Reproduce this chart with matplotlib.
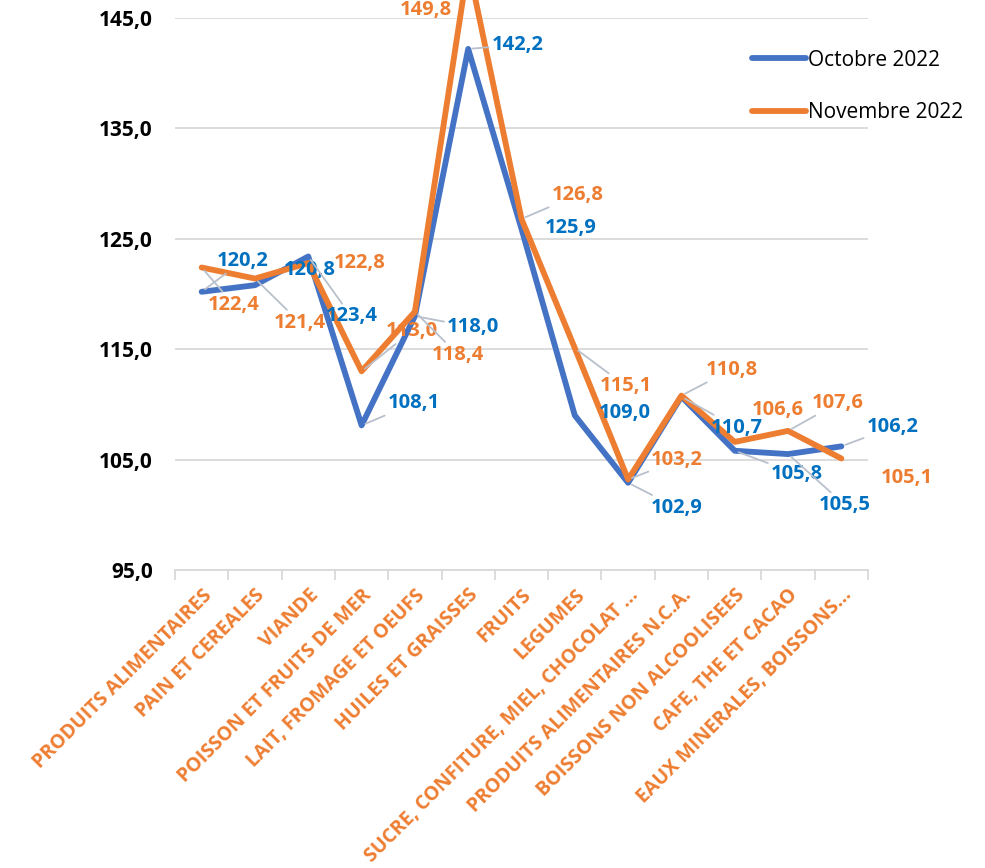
import matplotlib.pyplot as plt
from matplotlib.ticker import FixedLocator

plt.rcParams['font.family'] = ['Open Sans', 'DejaVu Sans']

categories = [
    "PRODUITS ALIMENTAIRES", "PAIN ET CEREALES", "VIANDE",
    "POISSON ET FRUITS DE MER", "LAIT, FROMAGE ET OEUFS",
    "HUILES ET GRAISSES", "FRUITS", "LEGUMES",
    "SUCRE, CONFITURE, MIEL, CHOCOLAT ...", "PRODUITS ALIMENTAIRES N.C.A.",
    "BOISSONS NON ALCOOLISEES", "CAFE, THE ET CACAO",
    "EAUX MINERALES, BOISSONS...",
]
octobre = [120.2, 120.8, 123.4, 108.1, 118.0, 142.2, 125.9,
           109.0, 102.9, 110.7, 105.8, 105.5, 106.2]
novembre = [122.4, 121.4, 122.8, 113.0, 118.4, 149.8, 126.8,
            115.1, 103.2, 110.8, 106.6, 107.6, 105.1]
y_ticks = [95, 105, 115, 125, 135, 145]

# label offsets in pixels (dx right, dy down) and whether a leader line shows
oct_off = [(41, -31), (55, -15), (43, 60), (52, -22), (58, 11), (49, -4),
           (49, -1), (50, -2), (49, 25), (55, 31), (62, 23), (57, 51),
           (51, -19)]
oct_lead = [1, 0, 1, 1, 1, 1, 0, 0, 1, 1, 1, 1, 1]
nov_off = [(32, 37), (45, 44), (51, 0), (50, -40), (43, 43), (-42, 45),
           (56, -24), (51, 38), (49, -19), (50, -26), (43, -32), (50, -28),
           (65, 20)]
nov_lead = [1, 1, 0, 1, 1, 0, 1, 1, 1, 1, 0, 1, 0]

BLUE, ORANGE = "#4472C4", "#ED7D31"
BLUE_TXT = "#0070C0"
GRID = "#D9D9D9"

fig = plt.figure(figsize=(9.85, 8.68), dpi=100)
ax = fig.add_axes([175 / 985, 1 - 570 / 868, 693 / 985, 552 / 868])

x = list(range(len(categories)))
ax.plot(x, octobre, color=BLUE, lw=4.2, label="Octobre 2022",
        solid_capstyle="round", clip_on=False, zorder=3)
ax.plot(x, novembre, color=ORANGE, lw=4.2, label="Novembre 2022",
        solid_capstyle="round", clip_on=False, zorder=4)


def fmt(v):
    return f"{v:.1f}".replace(".", ",")


def labels(vals, offs, leads, color):
    for i, (v, (dx, dy), lead) in enumerate(zip(vals, offs, leads)):
        props = None
        if lead:
            props = dict(arrowstyle="-", color="#B8C0CC", lw=1.3,
                         shrinkA=0, shrinkB=3)
        ax.annotate(fmt(v), (i, v), xytext=(dx, -dy),
                    textcoords="offset pixels", ha="center", va="center",
                    fontsize=14.5, fontweight="bold", color=color,
                    arrowprops=props, annotation_clip=False, zorder=5)


labels(octobre, oct_off, oct_lead, BLUE_TXT)
labels(novembre, nov_off, nov_lead, ORANGE)

ax.set_xlim(-0.5, len(categories) - 0.5)
ax.set_ylim(95, 145)
ax.set_yticks(y_ticks)
ax.set_yticklabels([fmt(t) for t in y_ticks], fontsize=15,
                   fontweight="bold")
ax.tick_params(axis="y", length=0, pad=16)
ax.grid(axis="y", color=GRID, lw=1.3)
ax.set_axisbelow(True)

ax.set_xticks(x)
ax.set_xticklabels(categories, rotation=45, ha="right",
                   rotation_mode="anchor", fontsize=14,
                   fontweight="bold", color=ORANGE)
ax.tick_params(axis="x", length=0, pad=11)
ax.xaxis.set_minor_locator(FixedLocator([i - 0.5 for i in range(len(x) + 1)]))
ax.tick_params(axis="x", which="minor", length=7, width=1.3, color=GRID)

for s in ["top", "right", "left"]:
    ax.spines[s].set_visible(False)
ax.spines["bottom"].set_color(GRID)
ax.spines["bottom"].set_linewidth(1.3)

fig.legend(loc="upper left", bbox_to_anchor=(733 / 985, 1 - 31 / 868),
           frameon=False, fontsize=15, handlelength=2.6,
           handletextpad=0.1, labelspacing=1.5)

plt.savefig("out.png", dpi=100)
